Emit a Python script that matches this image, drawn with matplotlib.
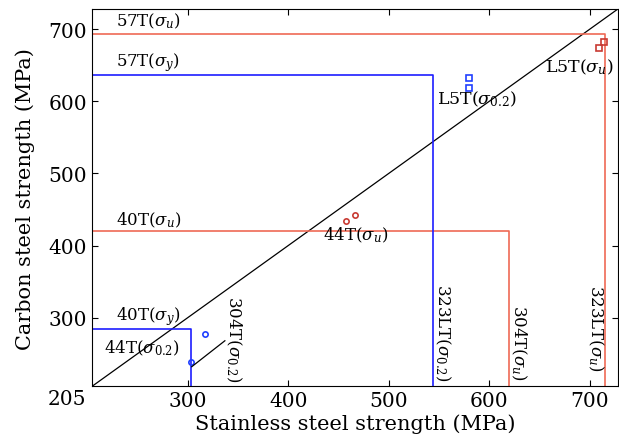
import matplotlib
matplotlib.use("Agg")
import matplotlib.pyplot as plt

plt.rcParams['font.family'] = ['DejaVu Serif']
plt.rcParams['mathtext.fontset'] = 'dejavuserif'

# axis range (MPa)
lim = [205, 728]

# design strength corners: stainless (x) vs carbon (y)
red_x = [715, 620]      # 323LT(su), 304T(su)
red_y = [694, 420]      # 57T(su), 40T(su)
blue_x = [544, 303]     # 323LT(s0.2), 304T(s0.2)
blue_y = [637, 284]     # 57T(sy), 40T(sy)

# test results
l5t_su_x = [714, 709]
l5t_su_y = [683, 674]
l5t_s02_x = [580, 580]
l5t_s02_y = [633, 619]
t44_su_x = [458, 467]
t44_su_y = [434, 442]
t44_s02_x = [303, 317]
t44_s02_y = [238, 277]

red_line = '#ef6a55'
red_mark = '#c83a32'
blue_line = '#1e1eff'
blue_mark = '#2040ff'

fig = plt.figure(figsize=(6.19, 4.39), dpi=100)
ax = fig.add_axes([0.149, 0.118, 0.849, 0.859])

ax.plot(lim, lim, color='black', lw=0.9)

for x, y in zip(red_x, red_y):
    ax.plot([lim[0], x, x], [y, y, lim[0]], color=red_line, lw=1.2)
for x, y in zip(blue_x, blue_y):
    ax.plot([lim[0], x, x], [y, y, lim[0]], color=blue_line, lw=1.2)

ax.plot(l5t_su_x, l5t_su_y, 's', ms=3.8, mfc='none', mec=red_mark, mew=1.2)
ax.plot(l5t_s02_x, l5t_s02_y, 's', ms=3.8, mfc='none', mec=blue_mark, mew=1.2)
ax.plot(t44_su_x, t44_su_y, 'o', ms=3.8, mfc='none', mec=red_mark, mew=1.2)
ax.plot(t44_s02_x, t44_s02_y, 'o', ms=3.8, mfc='none', mec=blue_mark, mew=1.2)

# leader line for 304T(s0.2)
ax.plot([304, 337], [232, 268], color='black', lw=0.9)

fs = 12
ax.text(229, 712, r'57T($\sigma_u$)', fontsize=fs, va='center')
ax.text(229, 655, r'57T($\sigma_y$)', fontsize=fs, va='center')
ax.text(229, 436, r'40T($\sigma_u$)', fontsize=fs, va='center')
ax.text(229, 303, r'40T($\sigma_y$)', fontsize=fs, va='center')
ax.text(217, 259, r'44T($\sigma_{0.2}$)', fontsize=fs, va='center')
ax.text(435, 416, r'44T($\sigma_u$)', fontsize=fs, va='center')
ax.text(548, 604, r'L5T($\sigma_{0.2}$)', fontsize=12.5, va='center')
ax.text(724, 648, r'L5T($\sigma_u$)', fontsize=12.5, ha='right', va='center')

ax.text(346, 272, r'304T($\sigma_{0.2}$)', fontsize=fs, rotation=270,
        ha='center', va='center')
ax.text(554, 280, r'323LT($\sigma_{0.2}$)', fontsize=fs, rotation=270,
        ha='center', va='center')
ax.text(629, 266, r'304T($\sigma_u$)', fontsize=fs, rotation=270,
        ha='center', va='center')
ax.text(706, 287, r'323LT($\sigma_u$)', fontsize=fs, rotation=270,
        ha='center', va='center')

ax.set_xlim(lim)
ax.set_ylim(lim)
ax.set_xticks([300, 400, 500, 600, 700])
ax.set_yticks([300, 400, 500, 600, 700])
ax.tick_params(direction='in', top=True, right=True, labelsize=14.5, length=4)
ax.annotate('205', xy=(0, 0), xycoords='axes fraction', xytext=(-4, -2),
            textcoords='offset points', ha='right', va='top', fontsize=14.5)

ax.set_xlabel('Stainless steel strength (MPa)', fontsize=15, labelpad=2)
ax.set_ylabel('Carbon steel strength (MPa)', fontsize=15, labelpad=10)

fig.savefig('out.png', dpi=100)
